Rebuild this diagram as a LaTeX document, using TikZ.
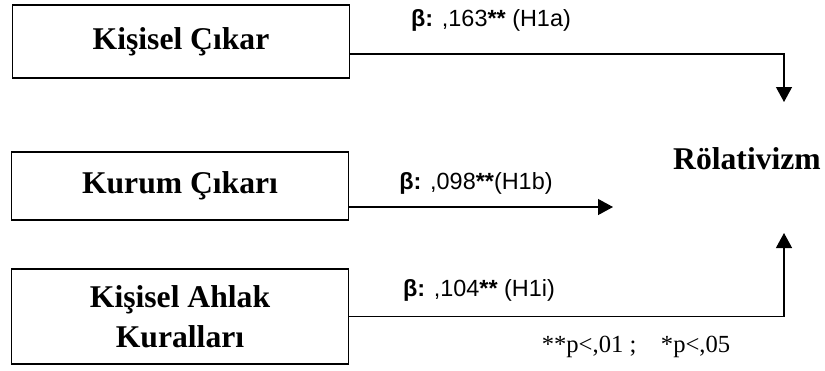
\documentclass[tikz,border=0pt]{standalone}
\usepackage{fontspec}
\setmainfont{Liberation Serif}
\setsansfont{Liberation Sans}
\usetikzlibrary{arrows.meta,positioning}

\begin{document}
\begin{tikzpicture}[line width=1pt,
    >={Triangle[length=0.45cm,width=0.48cm]},
    every node/.append style={align=center},
    var/.style={draw, line width=1.2pt, minimum width=10.1cm,
        font=\fontsize{27}{34}\selectfont\bfseries},
    coef/.style={font=\sffamily\fontsize{20}{24}\selectfont}]
    \useasboundingbox (0,0) rectangle (24.75,-11.1);

    \node [var, minimum height=2.19cm] (K) at (5.43,-1.245) {Kişisel Çıkar};
    \node [var, minimum height=2.04cm] (C) at (5.4,-5.58)   {Kurum Çıkarı};
    \node [var, minimum height=2.85cm] (A) at (5.4,-9.5)    {Kişisel Ahlak\\Kuralları};
    \node [font=\fontsize{27}{34}\selectfont\bfseries] (R) at (22.41,-4.75) {Rölativizm};

    \coordinate (k1) at (23.52,-3.06);
    \coordinate (c1) at (18.39,-6.21);
    \coordinate (a1) at (23.52,-6.99);

    \draw [->] ([yshift=-0.375cm]K.east) -| (k1);
    \draw [->] ([yshift=-0.63cm]C.east) -- (c1);
    \draw [->] (A.east) -| (a1);

    \node [coef] (b1) at (14.73,-0.62) {\textbf{β:} ,163\textbf{**} (H1a)};
    \node [coef] (b2) at (14.28,-5.49) {\textbf{β:} ,098\textbf{**}(H1b)};
    \node [coef] (b3) at (14.37,-8.7)  {\textbf{β:} ,104\textbf{**} (H1i)};

    \node [font=\fontsize{21}{25}\selectfont] (p) at (19.08,-10.41) {**p<,01 ;\quad *p<,05};
\end{tikzpicture}
\end{document}
